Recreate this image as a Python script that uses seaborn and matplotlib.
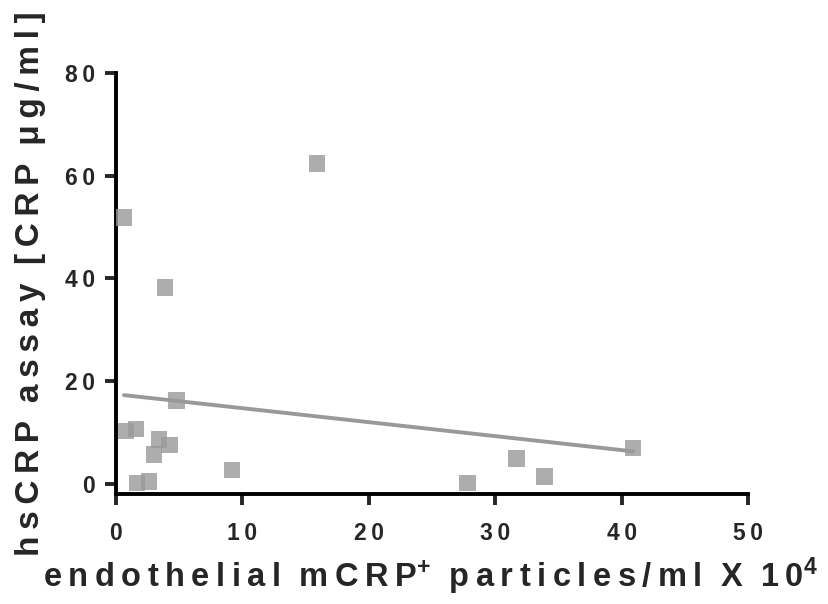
import numpy as np
import pandas as pd
import matplotlib
matplotlib.use('Agg')
import matplotlib.pyplot as plt
import seaborn as sns

# endothelial mCRP+ particles (x 10^4 / ml) vs hsCRP (ug/ml)
particles = [0.63, 15.9, 3.86, 4.8, 0.79, 1.57, 3.39, 4.25, 2.99, 1.65, 2.6, 9.2, 27.8, 31.7, 33.9, 40.9]
hscrp = [51.9, 62.4, 38.2, 16.2, 10.3, 10.7, 8.6, 7.6, 5.7, 0.2, 0.4, 2.7, 0.2, 4.9, 1.4, 7.0]

x_ticks = [0, 10, 20, 30, 40, 50]
y_ticks = [0, 20, 40, 60, 80]

df = pd.DataFrame({'particles': particles, 'hscrp': hscrp})

sns.set_style('ticks')
plt.rcParams['font.family'] = ['Liberation Sans', 'DejaVu Sans']
plt.rcParams['font.weight'] = 'bold'
plt.rcParams['mathtext.fontset'] = 'custom'
plt.rcParams['mathtext.rm'] = 'Liberation Sans:bold'
plt.rcParams['mathtext.default'] = 'rm'

TS = '\u2009'  # thin space, to imitate the wide letter spacing


def spaced(s):
    return TS.join(s)


grey = '#999999'

fig = plt.figure(figsize=(8.29, 6.04), dpi=100)
ax = fig.add_axes([0.1399, 0.1821, 0.7624, 0.697])

sns.regplot(data=df, x='particles', y='hscrp', ci=None, marker='s', ax=ax,
            scatter_kws=dict(s=140, color=grey, edgecolor='none', zorder=3),
            line_kws=dict(color=grey, lw=2.8, zorder=2))

ax.set_xlim(0, 50)
ax.set_ylim(-2, 80)
ax.set_xticks(x_ticks, [spaced(str(t)) for t in x_ticks])
ax.set_yticks(y_ticks, [spaced(str(t)) for t in y_ticks])
ax.tick_params(axis='both', length=8, width=2.8, labelsize=16.5)
ax.tick_params(axis='x', pad=12)
ax.tick_params(axis='y', pad=7)
for lab in ax.get_xticklabels() + ax.get_yticklabels():
    lab.set_fontweight('bold')

sns.despine(ax=ax)
for side in ['left', 'bottom']:
    ax.spines[side].set_linewidth(2.8)
    ax.spines[side].set_color('black')

xlab = (spaced('endothelial') + '  ' + spaced('mCRP') + '$^{+}$' + '  '
        + spaced('particles/ml') + '  X  ' + spaced('10') + '$^{4}$')
ylab = (spaced('hsCRP') + '  ' + spaced('assay') + '  ' + spaced('[CRP') + '  '
        + spaced('\u03bcg/ml]'))
ax.set_xlabel(xlab, fontsize=23.5, fontweight='bold')
ax.set_ylabel(ylab, fontsize=24, fontweight='bold')
ax.xaxis.set_label_coords(0.498, -0.145)
ax.yaxis.set_label_coords(-0.11, 0.5)

plt.savefig('out.png', dpi=100)
